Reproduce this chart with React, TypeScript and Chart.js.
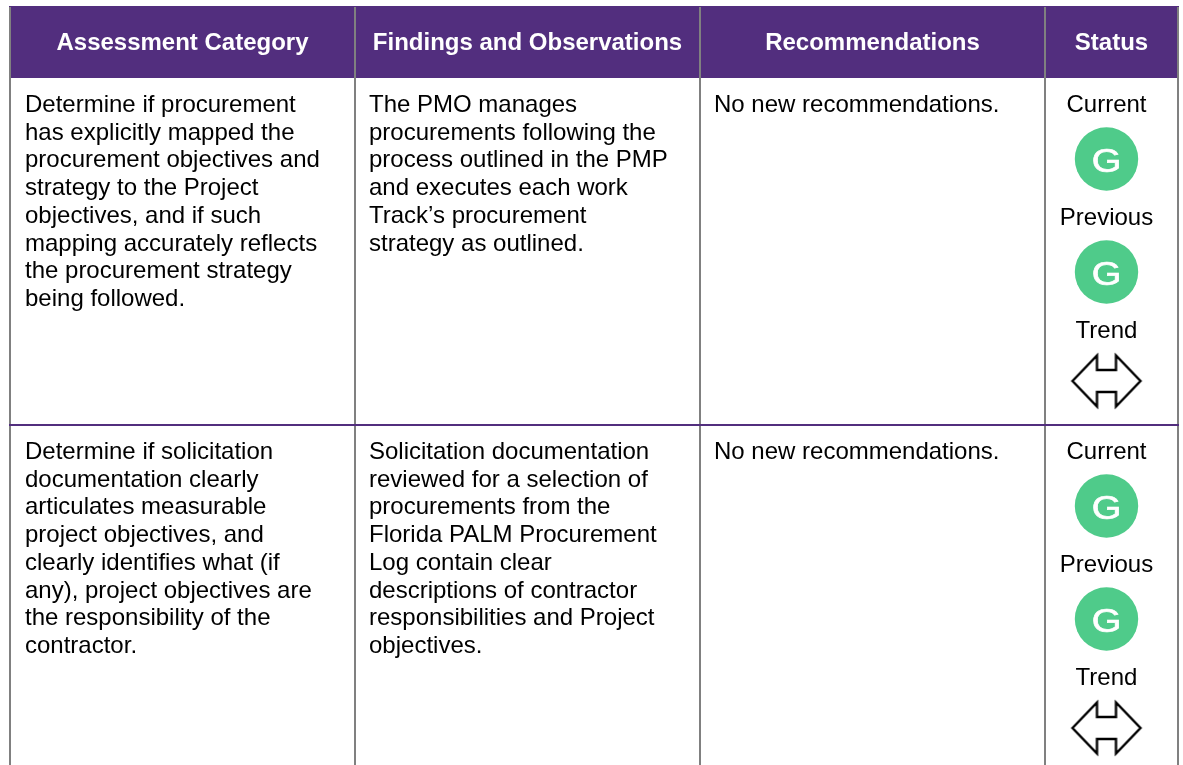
import React, { useEffect, useRef } from "react";
import { Chart, registerables } from "chart.js";

Chart.register(...registerables);

// ---- table content ----
const headers = ["Assessment Category", "Findings and Observations", "Recommendations", "Status"];
const assessmentRows = [
  ["Determine if procurement", "has explicitly mapped the", "procurement objectives and", "strategy to the Project", "objectives, and if such", "mapping accurately reflects", "the procurement strategy", "being followed."],
  ["Determine if solicitation", "documentation clearly", "articulates measurable", "project objectives, and", "clearly identifies what (if", "any), project objectives are", "the responsibility of the", "contractor."],
];
const findingsRows = [
  ["The PMO manages", "procurements following the", "process outlined in the PMP", "and executes each work", "Track\u2019s procurement", "strategy as outlined."],
  ["Solicitation documentation", "reviewed for a selection of", "procurements from the", "Florida PALM Procurement", "Log contain clear", "descriptions of contractor", "responsibilities and Project", "objectives."],
];
const recommendationRows = [["No new recommendations."], ["No new recommendations."]];
const statusLabels = ["Current", "Previous", "Trend"];
const currentRatings = ["G", "G"];
const previousRatings = ["G", "G"];
const trends = ["flat", "flat"];

// ---- layout ----
const W = 1183, H = 765;
const columnEdges = [10, 355, 700, 1045, 1178];
const textX = [25, 369, 714];
const statusX = 1106.5;
const headerTop = 6, headerBottom = 78;
const rowTops = [78, 425];
const firstBaseline = 34;
const lineStep = 27.7;
const labelOffsets = [34, 147, 260];
const circleOffsets = [81, 194];
const arrowOffset = 303;
const PURPLE = "#522e7e", GREEN = "#4fcb8a", GRAY = "#808080";
const FONT = '"Liberation Sans", Arial, sans-serif';

function makeArrow(): HTMLCanvasElement {
  const c = document.createElement("canvas");
  c.width = 76; c.height = 60;
  const g = c.getContext("2d")!;
  g.translate(38, 30);
  g.beginPath();
  [[-34, 0], [-9.5, -25.5], [-9.5, -11], [9.5, -11], [9.5, -25.5], [34, 0], [9.5, 25.5], [9.5, 11], [-9.5, 11], [-9.5, 25.5]]
    .forEach(([x, y], i) => (i ? g.lineTo(x, y) : g.moveTo(x, y)));
  g.closePath();
  g.fillStyle = "#fff";
  g.fill();
  g.lineWidth = 2.4;
  g.strokeStyle = "#000";
  g.stroke();
  return c;
}

const tablePlugin = {
  id: "tableText",
  beforeDatasetsDraw(chart: any) {
    const { ctx, scales } = chart;
    const px = (v: number) => scales.x.getPixelForValue(v);
    const py = (v: number) => scales.y.getPixelForValue(v);
    ctx.save();
    ctx.fillStyle = PURPLE;
    ctx.fillRect(px(columnEdges[0]) - 1, py(headerTop), px(columnEdges[4]) - px(columnEdges[0]) + 2, headerBottom - headerTop);
    ctx.fillStyle = GRAY;
    columnEdges.forEach((e) => ctx.fillRect(px(e) - 1, py(headerTop + 1), 2, H - headerTop));
    ctx.fillStyle = PURPLE;
    ctx.fillRect(px(columnEdges[0]) - 1, py(rowTops[1]) - 1, px(columnEdges[4]) - px(columnEdges[0]) + 2, 2);

    ctx.textBaseline = "alphabetic";
    ctx.fillStyle = "#fff";
    ctx.textAlign = "center";
    ctx.font = `bold 24px ${FONT}`;
    headers.forEach((h, i) => {
      const cx = (columnEdges[i] + columnEdges[i + 1]) / 2;
      ctx.fillText(h, px(cx), py(50));
    });

    ctx.fillStyle = "#000";
    ctx.font = `24px ${FONT}`;
    ctx.textAlign = "left";
    [assessmentRows, findingsRows, recommendationRows].forEach((rows, col) =>
      rows.forEach((lines, r) =>
        lines.forEach((line, i) =>
          ctx.fillText(line, px(textX[col]), py(rowTops[r] + firstBaseline + i * lineStep))
        )
      )
    );
    ctx.textAlign = "center";
    rowTops.forEach((top) =>
      statusLabels.forEach((label, i) => ctx.fillText(label, px(statusX), py(top + labelOffsets[i])))
    );
    ctx.restore();
  },
  afterDatasetsDraw(chart: any) {
    const { ctx, scales } = chart;
    ctx.save();
    ctx.fillStyle = "#fff";
    ctx.strokeStyle = "#fff";
    ctx.lineWidth = 0.7;
    ctx.textAlign = "center";
    ctx.textBaseline = "alphabetic";
    ctx.font = `34px ${FONT}`;
    rowTops.forEach((top, r) => {
      [currentRatings[r], previousRatings[r]].forEach((rating, i) => {
        ctx.save();
        ctx.translate(scales.x.getPixelForValue(statusX), scales.y.getPixelForValue(top + circleOffsets[i]) + 13);
        ctx.scale(1.12, 1);
        ctx.fillText(rating, 0, 0);
        ctx.strokeText(rating, 0, 0);
        ctx.restore();
      });
    });
    ctx.restore();
  },
};

export default function App() {
  const ref = useRef<HTMLCanvasElement>(null);
  useEffect(() => {
    document.body.style.margin = "0";
    document.body.style.background = "#fff";
    const circles = rowTops.flatMap((top) => circleOffsets.map((o) => ({ x: statusX, y: top + o })));
    const arrows = rowTops.filter((_, r) => trends[r] === "flat").map((top) => ({ x: statusX, y: top + arrowOffset }));
    const chart = new Chart(ref.current!, {
      type: "scatter",
      data: {
        datasets: [
          { label: "Rating", data: circles, pointRadius: 31.7, pointHoverRadius: 31.7, backgroundColor: GREEN, borderWidth: 0 },
          { label: "Trend", data: arrows, pointStyle: makeArrow() as any, pointRadius: 30, backgroundColor: "#fff", borderWidth: 0 },
        ],
      },
      options: {
        animation: false,
        responsive: false,
        maintainAspectRatio: false,
        layout: { padding: 0, autoPadding: false },
        events: [],
        plugins: { legend: { display: false }, tooltip: { enabled: false }, title: { display: false } },
        scales: {
          x: { type: "linear", display: false, min: 0, max: W },
          y: { type: "linear", display: false, min: 0, max: H, reverse: true },
        },
      },
      plugins: [tablePlugin],
    });
    return () => chart.destroy();
  }, []);
  return (
    <div style={{ width: W, height: H, overflow: "hidden" }}>
      <canvas ref={ref} width={W} height={H} style={{ display: "block" }} />
    </div>
  );
}
